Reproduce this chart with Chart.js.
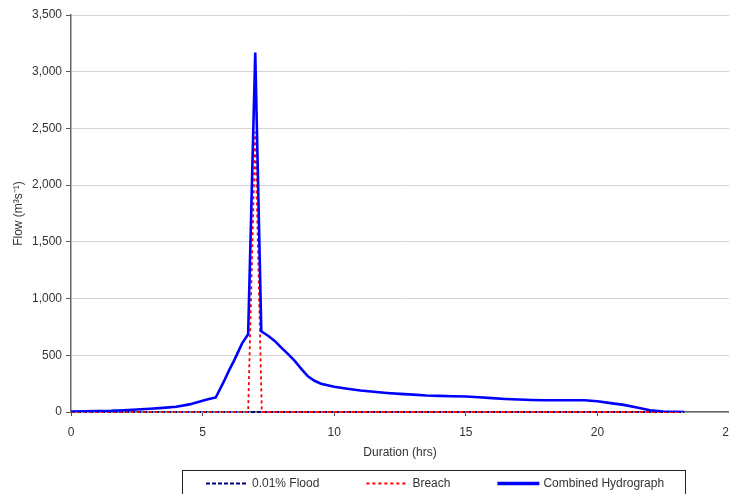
<!DOCTYPE html>
<html>
<head>
<meta charset="utf-8">
<title>Hydrograph</title>
<script src="https://cdn.jsdelivr.net/npm/chart.js@4.4.1/dist/chart.umd.min.js"></script>
<style>
  html, body { margin: 0; padding: 0; background: #ffffff; }
  #frame { width: 729px; height: 494px; overflow: hidden; position: relative; }
  canvas { display: block; }
</style>
</head>
<body>
<div id="frame"><canvas id="chart" width="780" height="494"></canvas></div>
<script>
// Duration (hrs) and flow (m3/s) for each hydrograph
const combinedHours = [0, 0.5, 1.0, 1.5, 2.0, 2.5, 3.0, 3.5, 4.0, 4.5, 5.0, 5.2, 5.5, 5.8, 6.0, 6.2, 6.5, 6.73,
  7.0, 7.23, 7.5, 7.75, 8.0, 8.25, 8.5, 8.75, 9.0, 9.25, 9.5, 10, 10.5, 11, 11.5, 12, 12.5, 13, 13.5, 14,
  14.5, 15, 15.5, 16, 16.5, 17, 17.5, 18, 18.5, 19, 19.5, 20, 20.5, 21, 21.5, 22, 22.5, 23, 23.3];
const combinedFlow = [5, 6, 8, 10, 15, 22, 28, 36, 46, 67, 100, 113, 128, 265, 365, 455, 605, 685,
  3170, 711, 670, 625, 565, 510, 450, 380, 315, 275, 250, 222, 205, 190, 178, 168, 160, 153, 146, 142,
  139, 136, 130, 122, 115, 110, 106, 104, 104, 103, 103, 95, 78, 63, 40, 16, 4, 1, 0];

const breachHours = [0, 6.73, 7.0, 7.25, 23.2];
const breachFlow = [0, 0, 2470, 0, 0];

const floodHours = [0, 23.3];
const floodFlow = [0, 0];

const seriesNames = ['0.01% Flood', 'Breach', 'Combined Hydrograph'];
const xTickValues = [0, 5, 10, 15, 20, 25];
const yTickValues = [0, 500, 1000, 1500, 2000, 2500, 3000, 3500];

const toPoints = (xs, ys) => xs.map((x, i) => ({ x: x, y: ys[i] }));

const FONT = '"Liberation Sans", Arial, sans-serif';
const TEXT = '#333333';

// Boxed legend under the axis title
const boxLegend = {
  id: 'boxLegend',
  afterDraw(chart) {
    const { ctx, chartArea } = chart;
    const left = chartArea.left + 111;
    const top = 470;
    ctx.save();
    ctx.strokeStyle = '#222222';
    ctx.lineWidth = 1;
    ctx.strokeRect(left + 0.5, top + 0.5, 503, 40);
    ctx.font = '12px ' + FONT;
    ctx.textBaseline = 'middle';
    ctx.textAlign = 'left';
    const y = top + 13.5;
    let x = left + 24;
    chart.data.datasets.forEach(ds => {
      ctx.save();
      ctx.strokeStyle = ds.borderColor;
      ctx.lineWidth = ds.legendWidth || ds.borderWidth;
      ctx.setLineDash(ds.borderDash || []);
      ctx.beginPath();
      ctx.moveTo(x, y);
      ctx.lineTo(x + 42, y);
      ctx.stroke();
      ctx.restore();
      ctx.fillStyle = TEXT;
      ctx.fillText(ds.label, x + 46, y);
      x += 46 + ctx.measureText(ds.label).width + 47;
    });
    ctx.restore();
  }
};

new Chart(document.getElementById('chart'), {
  type: 'line',
  data: {
    datasets: [
      {
        label: seriesNames[0],
        data: toPoints(floodHours, floodFlow),
        borderColor: '#000080',
        borderWidth: 2.2,
        borderDash: [4, 2],
        legendWidth: 2,
        pointRadius: 0,
        tension: 0,
        clip: false,
        order: 2
      },
      {
        label: seriesNames[1],
        data: toPoints(breachHours, breachFlow),
        borderColor: '#ff0000',
        borderWidth: 1.8,
        borderDash: [3, 3],
        legendWidth: 2,
        pointRadius: 0,
        tension: 0,
        clip: false,
        order: 1
      },
      {
        label: seriesNames[2],
        data: toPoints(combinedHours, combinedFlow),
        borderColor: '#0000ff',
        borderWidth: 2.6,
        legendWidth: 3.5,
        pointRadius: 0,
        tension: 0,
        order: 0
      }
    ]
  },
  options: {
    responsive: false,
    animation: false,
    devicePixelRatio: 1,
    layout: { padding: { top: 15, right: 51, bottom: 34, left: 0 } },
    plugins: {
      legend: { display: false },
      tooltip: { enabled: false }
    },
    scales: {
      x: {
        type: 'linear',
        min: 0,
        max: 25,
        afterBuildTicks: s => { s.ticks = xTickValues.map(v => ({ value: v })); },
        afterFit: s => { s.height = 48; },
        grid: { drawOnChartArea: false, drawTicks: true, tickLength: 4, tickColor: '#555555' },
        border: { color: '#666666', width: 1.5 },
        ticks: { padding: 9, color: TEXT, font: { family: FONT, size: 12 }, maxRotation: 0 },
        title: { display: true, text: 'Duration (hrs)', color: TEXT, font: { family: FONT, size: 12 }, padding: { top: 0, bottom: 0 } }
      },
      y: {
        min: 0,
        max: 3500,
        afterBuildTicks: s => { s.ticks = yTickValues.map(v => ({ value: v })); },
        afterFit: s => { s.width = 71; },
        grid: { color: '#d4d4d4', lineWidth: 1, drawTicks: true, tickLength: 5, tickColor: '#555555' },
        border: { color: '#666666', width: 1.5 },
        ticks: {
          padding: 4,
          color: TEXT,
          font: { family: FONT, size: 12 },
          callback: v => v.toLocaleString('en-US')
        },
        title: { display: true, text: 'Flow (m³s⁻¹)', color: TEXT, font: { family: FONT, size: 12 }, padding: { top: 11, bottom: 0 } }
      }
    }
  },
  plugins: [boxLegend]
});
</script>
</body>
</html>
